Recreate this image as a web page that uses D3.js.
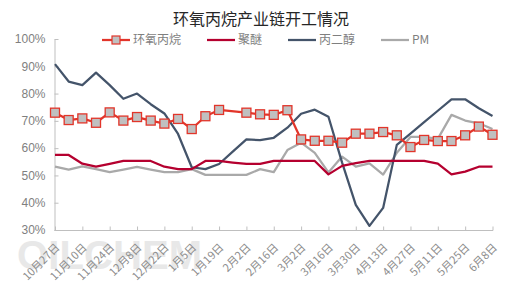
<!DOCTYPE html>
<html>
<head>
<meta charset="utf-8">
<script src="https://cdn.jsdelivr.net/npm/d3@7"></script>
<style>
  body { margin: 0; background: #fff; }
  svg { font-family: "Liberation Sans", "Noto Sans CJK SC", sans-serif; }
</style>
</head>
<body>
<div id="chart"></div>
<script>
// weekly dates, 10/27 .. 6/8
const dates = ["10月27日","11月3日","11月10日","11月17日","11月24日","12月1日","12月8日","12月15日","12月22日","12月29日",
  "1月5日","1月12日","1月19日","1月26日","2月2日","2月9日","2月16日","2月23日","3月2日","3月9日",
  "3月16日","3月23日","3月30日","4月6日","4月13日","4月20日","4月27日","5月4日","5月11日","5月18日",
  "5月25日","6月1日","6月8日"];

// 环氧丙烷 (null = no point that week)
const epoxy = [73.0, 70.3, 70.9, 69.3, 73.1, 70.1, 71.4, 70.1, 69.0, 70.7,
  67.0, 71.7, 74.0, null, 73.0, 72.4, 72.2, 73.9, 63.2, 62.7,
  62.7, 62.0, 65.3, 65.3, 65.9, 64.7, 60.4, 63.0, 62.6, 62.6,
  64.7, 67.9, 64.9];
// 聚醚
const polyether = [57.5, 57.5, 54.3, 53.2, 54.2, 55.3, 55.3, 55.3, 53.2, 52.3,
  52.3, 55.3, 55.3, 54.7, 54.2, 54.2, 55.3, 55.3, 55.3, 55.3,
  50.4, 53.5, 54.5, 55.3, 55.3, 55.3, 55.3, 55.3, 54.3, 50.4,
  51.4, 53.2, 53.2];
// 丙二醇
const glycol = [90.8, 84.4, 83.1, 87.7, 83.1, 78.1, 80.0, 76.1, 72.7, 65.2,
  53.0, 52.3, 54.2, 58.7, 63.2, 62.9, 63.8, 67.5, 72.6, 74.1,
  71.5, 54.7, 39.2, 31.5, 38.1, 61.2, 65.3, 69.5, 73.7, 77.9,
  77.9, 74.6, 71.8];
// PM
const pm = [53.2, 52.1, 53.3, 52.3, 51.2, 52.1, 53.1, 52.1, 51.2, 51.2,
  52.3, 50.2, 50.2, 50.2, 50.2, 52.3, 51.2, 59.3, 62.0, 58.3,
  51.1, 56.9, 53.2, 54.4, 50.3, 58.3, 64.1, 64.1, 63.4, 72.2,
  70.1, 69.1, 67.0];

const yTicks = [30, 40, 50, 60, 70, 80, 90, 100];
const labelDates = dates.filter((d, i) => i % 2 === 0);

const series = [
  { name: "环氧丙烷", values: epoxy, color: "#e2352a", marker: true },
  { name: "聚醚", values: polyether, color: "#b5002f" },
  { name: "丙二醇", values: glycol, color: "#44546a" },
  { name: "PM", values: pm, color: "#a9a9a9" }
];

const width = 522, height = 295;
const svg = d3.select("#chart").append("svg")
  .attr("width", width)
  .attr("height", height);

// watermark
svg.append("text")
  .attr("x", 17)
  .attr("y", 269)
  .attr("fill", "#e8e8e8")
  .attr("textLength", 185)
  .style("font-size", "40px")
  .style("font-weight", "bold")
  .text("OILCHEM");

// title
svg.append("text")
  .attr("x", 261)
  .attr("y", 25)
  .attr("text-anchor", "middle")
  .attr("fill", "#262626")
  .style("font-family", "'Noto Sans CJK SC', sans-serif")
  .style("font-size", "16px")
  .text("环氧丙烷产业链开工情况");

// scales
const x = d3.scalePoint().domain(dates).range([55, 492.5]);
const y = d3.scaleLinear().domain([30, 100]).range([230, 39]);

// y axis
const yAxis = svg.append("g")
  .attr("transform", "translate(54.5,0)")
  .call(d3.axisLeft(y).tickValues(yTicks).tickFormat(d => d + "%")
    .tickSizeInner(-4).tickSizeOuter(0).tickPadding(9));
yAxis.select(".domain").attr("stroke", "#bfbfbf");
yAxis.selectAll(".tick line").attr("stroke", "#bfbfbf");
yAxis.selectAll(".tick text").attr("fill", "#7f7f7f").style("font-size", "12px");

// x axis
const xAxis = svg.append("g")
  .attr("transform", "translate(0,230.5)")
  .call(d3.axisBottom(x).tickValues(labelDates)
    .tickSizeInner(-4).tickSizeOuter(0));
xAxis.select(".domain").attr("stroke", "#bfbfbf").attr("d", "M54.5,0H493");
xAxis.selectAll(".tick line").attr("stroke", "#bfbfbf");
xAxis.selectAll(".tick text")
  .attr("fill", "#8c8c8c")
  .style("font-family", "'Noto Sans CJK SC', sans-serif")
  .style("font-size", "11px")
  .attr("text-anchor", "end")
  .attr("x", 0).attr("y", 0).attr("dy", "0.35em")
  .attr("transform", "translate(2,15) rotate(-45)");

// lines (draw back-to-front: PM, 丙二醇, 聚醚, 环氧丙烷)
const line = d3.line()
  .x(d => x(d.date))
  .y(d => y(d.v));

series.slice().reverse().forEach(s => {
  const pts = s.values.map((v, i) => ({ date: dates[i], v }))
    .filter(d => d.v != null);
  svg.append("path")
    .datum(pts)
    .attr("fill", "none")
    .attr("stroke", s.color)
    .attr("stroke-width", 2.25)
    .attr("stroke-linejoin", "round")
    .attr("d", line);
  if (s.marker) {
    svg.selectAll(".mk")
      .data(pts)
      .enter().append("rect")
      .attr("x", d => x(d.date) - 4.5)
      .attr("y", d => y(d.v) - 4.5)
      .attr("width", 9)
      .attr("height", 9)
      .attr("fill", "#c0c0c0")
      .attr("stroke", s.color)
      .attr("stroke-width", 1.3);
  }
});

// legend
const legendX = [102, 207, 288, 381];
const legend = svg.append("g").attr("transform", "translate(0,40)");
series.forEach((s, i) => {
  const g = legend.append("g").attr("transform", `translate(${legendX[i]},0)`);
  g.append("line")
    .attr("x1", 0).attr("x2", 28)
    .attr("stroke", s.color).attr("stroke-width", 2.25);
  if (s.marker) {
    g.append("rect")
      .attr("x", 10).attr("y", -4)
      .attr("width", 8).attr("height", 8)
      .attr("fill", "#c0c0c0")
      .attr("stroke", s.color).attr("stroke-width", 1.2);
  }
  g.append("text")
    .attr("x", 31)
    .attr("dy", "0.35em")
    .attr("fill", "#7f7f7f")
    .style("font-family", "'Noto Sans CJK SC', sans-serif")
    .style("font-size", "12px")
    .text(s.name);
});
</script>
</body>
</html>
